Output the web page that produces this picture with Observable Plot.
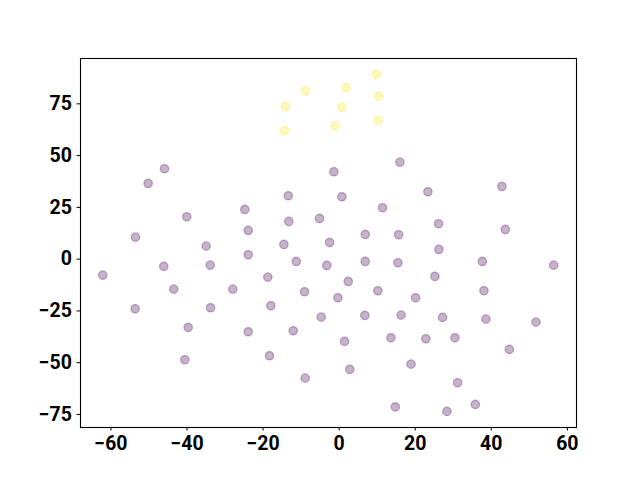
<!DOCTYPE html>
<html>
<head>
<meta charset="utf-8">
<script src="https://cdn.jsdelivr.net/npm/d3@7"></script>
<script src="https://cdn.jsdelivr.net/npm/@observablehq/plot@0.6"></script>
<style>
  html, body { margin: 0; padding: 0; background: white; }
</style>
</head>
<body>
<div id="chart"></div>
<script>
// Cluster 1 (yellow) points
const yellowX = [9.76, -8.84, 1.87, 10.44, -14.02, 0.71, 10.28, -14.36, -1.03];
const yellowY = [89.2, 81.3, 82.8, 78.7, 73.7, 73.4, 67.0, 62.0, 64.4];

// Cluster 0 (purple) points
const purpleX = [
  -45.92, -50.21, -24.80, -40.06, -23.91, -53.55, -34.96, 15.97, -1.39, -13.39,
  0.71, 11.41, -5.16, -13.23, 6.86, 15.62, -14.54, -2.52, 42.79, 23.33,
  26.14, 43.69, 26.22, -23.91, -46.11, -33.90, -62.15, -43.48, -27.96, -53.63,
  -33.82, -39.69, -23.91, -40.58, -11.28, -3.24, 6.86, 15.44, -18.75, 2.39,
  10.18, -9.10, -0.34, -17.96, -4.71, 6.76, 16.28, -12.07, 1.42, 13.60,
  -18.31, 18.91, 2.81, -8.92, 14.76, 37.64, 56.39, 25.17, 38.06, 20.09,
  27.20, 38.58, 51.74, 22.80, 30.43, 44.74, 31.14, 35.80, 28.33
];
const purpleY = [
  43.65, 36.55, 24.0, 20.47, 13.86, 10.62, 6.28, 46.84, 42.2, 30.61,
  30.13, 24.82, 19.65, 18.2, 11.93, 11.78, 7.10, 8.06, 35.1, 32.54,
  17.09, 14.34, 4.68, 2.12, -3.52, -2.90, -7.73, -14.49, -14.49, -23.95,
  -23.47, -32.98, -35.06, -48.58, -1.11, -3.04, -1.11, -1.74, -8.69, -10.77,
  -15.26, -15.74, -18.64, -22.5, -28.01, -27.19, -27.04, -34.57, -39.74, -37.95,
  -46.64, -50.7, -53.26, -57.46, -71.37, -1.11, -2.90, -8.35, -15.26, -18.64,
  -28.15, -28.97, -30.42, -38.44, -37.95, -43.6, -59.68, -70.16, -73.54
];

const xTicks = [-60, -40, -20, 0, 20, 40, 60];
const yTicks = [-75, -50, -25, 0, 25, 50, 75];
const clusterColors = ["#440154", "#fde725"];

const points = [
  ...purpleX.map((x, i) => ({x, y: purpleY[i], cluster: 0})),
  ...yellowX.map((x, i) => ({x, y: yellowY[i], cluster: 1}))
];

const chart = Plot.plot({
  width: 640,
  height: 480,
  marginLeft: 80,
  marginRight: 64,
  marginTop: 58,
  marginBottom: 53,
  style: {
    fontFamily: "Roboto",
    fontSize: "19.5px",
    fontWeight: "bold",
    color: "black",
    background: "white",
    overflow: "visible"
  },
  x: {domain: [-68.0, 62.4], ticks: xTicks, tickSize: 3.5, tickPadding: 5, label: null},
  y: {domain: [-81.3, 96.9], ticks: yTicks, tickSize: 3.5, tickPadding: 5, label: null},
  color: {type: "ordinal", domain: [0, 1], range: clusterColors},
  marks: [
    Plot.dot(points, {
      x: "x", y: "y", r: 4.2,
      fill: "cluster", stroke: "cluster",
      fillOpacity: 0.3, strokeOpacity: 0.3, strokeWidth: 1.3
    }),
    Plot.frame({stroke: "black", strokeWidth: 1.1})
  ]
});
document.getElementById("chart").appendChild(chart);
</script>
</body>
</html>
